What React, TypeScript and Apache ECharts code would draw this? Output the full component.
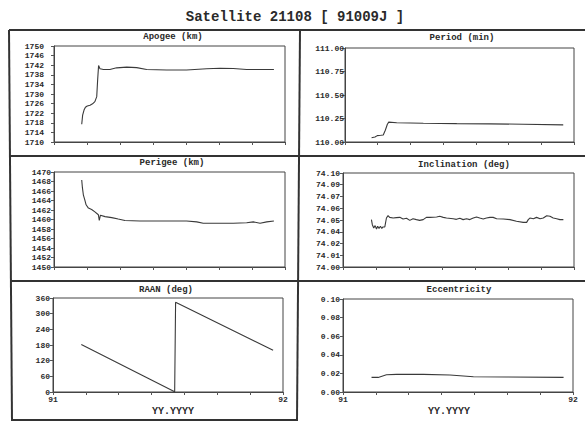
import React, { useEffect, useRef } from "react";
import * as echarts from "echarts";

const MAIN_TITLE = "Satellite 21108 [ 91009J ]";
const PANEL_TITLES = ["Apogee (km)", "Period (min)", "Perigee (km)", "Inclination (deg)", "RAAN (deg)", "Eccentricity"];
const X_AXIS_NAME = "YY.YYYY";
const X_MIN = 91;
const X_MAX = 92;
const X_TICKS = [91, 91.142857, 91.285714, 91.428571, 91.571429, 91.714286, 91.857143, 92];
const X_LABELS = [91, 92];

const apogeeYear = [91.120, 91.124, 91.130, 91.136, 91.144, 91.156, 91.167, 91.177, 91.185, 91.189, 91.193, 91.199, 91.214, 91.242, 91.271, 91.315, 91.358, 91.401, 91.488, 91.574, 91.661, 91.719, 91.776, 91.834, 91.892, 91.952];
const apogeeKm = [1717.4, 1721.2, 1723.3, 1724.5, 1725.0, 1725.3, 1725.9, 1726.8, 1728.9, 1736.0, 1741.9, 1740.5, 1740.2, 1740.2, 1740.9, 1741.2, 1741.0, 1740.2, 1740.0, 1740.0, 1740.5, 1740.7, 1740.6, 1740.2, 1740.2, 1740.2];

const periodYear = [91.116, 91.131, 91.141, 91.156, 91.167, 91.176, 91.185, 91.191, 91.226, 91.342, 91.488, 91.633, 91.779, 91.953];
const periodMin = [110.046, 110.054, 110.068, 110.071, 110.075, 110.125, 110.189, 110.211, 110.204, 110.200, 110.196, 110.193, 110.189, 110.182];

const perigeeYear = [91.120, 91.123, 91.127, 91.133, 91.139, 91.149, 91.163, 91.177, 91.192, 91.196, 91.201, 91.221, 91.250, 91.278, 91.307, 91.372, 91.459, 91.574, 91.618, 91.646, 91.776, 91.834, 91.863, 91.892, 91.921, 91.952];
const perigeeKm = [1468.3, 1466.7, 1465.2, 1464.2, 1463.1, 1462.4, 1462.1, 1461.6, 1461.0, 1459.8, 1460.9, 1460.6, 1460.4, 1460.1, 1459.8, 1459.7, 1459.7, 1459.7, 1459.5, 1459.2, 1459.2, 1459.3, 1459.5, 1459.2, 1459.5, 1459.7];

const inclYear = [91.123, 91.127, 91.133, 91.139, 91.145, 91.150, 91.156, 91.162, 91.168, 91.173, 91.181, 91.188, 91.195, 91.202, 91.217, 91.231, 91.246, 91.260, 91.275, 91.289, 91.303, 91.318, 91.332, 91.347, 91.361, 91.376, 91.405, 91.419, 91.434, 91.448, 91.477, 91.491, 91.506, 91.520, 91.535, 91.549, 91.564, 91.578, 91.592, 91.607, 91.621, 91.636, 91.650, 91.665, 91.694, 91.723, 91.751, 91.780, 91.795, 91.802, 91.809, 91.824, 91.838, 91.853, 91.867, 91.882, 91.896, 91.910, 91.925, 91.939, 91.954];
const inclDeg = [74.0504, 74.0450, 74.0415, 74.0440, 74.0404, 74.0433, 74.0411, 74.0433, 74.0411, 74.0426, 74.0426, 74.0521, 74.0546, 74.0528, 74.0521, 74.0525, 74.0528, 74.0511, 74.0518, 74.0496, 74.0514, 74.0504, 74.0496, 74.0504, 74.0528, 74.0528, 74.0532, 74.0539, 74.0528, 74.0521, 74.0514, 74.0507, 74.0518, 74.0504, 74.0514, 74.0504, 74.0521, 74.0532, 74.0521, 74.0511, 74.0521, 74.0528, 74.0528, 74.0514, 74.0511, 74.0504, 74.0486, 74.0475, 74.0475, 74.0504, 74.0521, 74.0514, 74.0528, 74.0514, 74.0521, 74.0546, 74.0539, 74.0521, 74.0514, 74.0504, 74.0504];

const raanYear = [91.123, 91.529, 91.533, 91.957];
const raanDeg = [182, 1, 344, 160];

const eccYear = [91.124, 91.153, 91.189, 91.233, 91.349, 91.465, 91.567, 91.712, 91.959];
const eccValue = [0.0157, 0.0157, 0.0186, 0.0189, 0.0189, 0.0182, 0.0164, 0.0161, 0.0157];

const APOGEE_LABELS = ["1710", "1714", "1718", "1722", "1726", "1730", "1734", "1738", "1742", "1746", "1750"];
const PERIOD_LABELS = ["110.00", "110.25", "110.50", "110.75", "111.00"];
const PERIGEE_LABELS = ["1450", "1452", "1454", "1456", "1458", "1460", "1462", "1464", "1466", "1468", "1470"];
const INCL_LABELS = ["74.00", "74.01", "74.02", "74.04", "74.05", "74.06", "74.07", "74.09", "74.10"];
const RAAN_LABELS = ["0", "60", "120", "180", "240", "300", "360"];
const ECC_LABELS = ["0.00", "0.02", "0.04", "0.06", "0.08", "0.10"];

const FONT = "'Liberation Mono', 'DejaVu Sans Mono', monospace";
const INK = "#2a2a2a";
const LINE = "#3a3a3a";

type Panel = {
  grid: { left: number; top: number; width: number; height: number };
  min: number; max: number; interval: number; labels: string[]; margin: number;
  xs: number[]; ys: number[]; bottom: boolean;
  title: [number, number]; xname?: [number, number];
};

const panels: Panel[] = [
  { grid: { left: 54, top: 46, width: 231, height: 96 }, min: 1710, max: 1750, interval: 4, labels: APOGEE_LABELS, margin: 10, xs: apogeeYear, ys: apogeeKm, bottom: false, title: [173, 37] },
  { grid: { left: 345, top: 48, width: 229, height: 94 }, min: 110, max: 111, interval: 0.25, labels: PERIOD_LABELS, margin: 1, xs: periodYear, ys: periodMin, bottom: false, title: [462, 38] },
  { grid: { left: 54, top: 172, width: 231, height: 95 }, min: 1450, max: 1470, interval: 2, labels: PERIGEE_LABELS, margin: 3, xs: perigeeYear, ys: perigeeKm, bottom: false, title: [172, 163] },
  { grid: { left: 343, top: 173, width: 231, height: 94 }, min: 74.0, max: 74.1, interval: 0.0125, labels: INCL_LABELS, margin: 3, xs: inclYear, ys: inclDeg, bottom: false, title: [464, 165] },
  { grid: { left: 53, top: 298, width: 230, height: 94 }, min: 0, max: 360, interval: 60, labels: RAAN_LABELS, margin: 3, xs: raanYear, ys: raanDeg, bottom: true, title: [166, 290], xname: [173, 411] },
  { grid: { left: 343, top: 299, width: 230, height: 93 }, min: 0, max: 0.1, interval: 0.02, labels: ECC_LABELS, margin: 3, xs: eccYear, ys: eccValue, bottom: true, title: [459, 290], xname: [449, 411] },
];

function text(str: string, x: number, y: number, size: number) {
  return {
    type: "text",
    x, y,
    silent: true,
    style: {
      text: str,
      font: `bold ${size}px ${FONT}`,
      fill: INK,
      align: "center",
      verticalAlign: "middle",
      textAlign: "center",
      textVerticalAlign: "middle",
    },
  };
}

function line(x1: number, y1: number, x2: number, y2: number, w: number) {
  return { type: "line", silent: true, shape: { x1, y1, x2, y2 }, style: { stroke: "#333", lineWidth: w } };
}

function buildOption() {
  const graphic: any[] = [];
  graphic.push(text(MAIN_TITLE, 295, 17, 14));
  graphic.push(line(9, 30, 585, 30, 2));
  graphic.push(line(9, 30, 12, 421, 2));
  graphic.push(line(300, 30, 297, 421, 2));
  graphic.push(line(10, 156, 585, 156, 2));
  graphic.push(line(11, 281, 585, 281, 2));
  graphic.push(line(12, 420, 297, 420, 2));
  panels.forEach((p, i) => {
    graphic.push(text(PANEL_TITLES[i], p.title[0], p.title[1], 9));
    if (p.xname) graphic.push(text(X_AXIS_NAME, p.xname[0], p.xname[1], 10));
  });

  return {
    animation: false,
    backgroundColor: "#ffffff",
    grid: panels.map((p) => ({
      ...p.grid,
      show: true,
      borderColor: "#444",
      borderWidth: 1,
      backgroundColor: "transparent",
      containLabel: false,
      outerBoundsMode: "none",
    })),
    xAxis: panels.map((p, i) => ({
      type: "value",
      gridIndex: i,
      min: X_MIN,
      max: X_MAX,
      axisLine: { show: true, lineStyle: { color: "#444", width: 1 } },
      axisTick: { show: true, length: 3, inside: false, customValues: X_TICKS, lineStyle: { color: "#555" } },
      axisLabel: {
        show: p.bottom,
        customValues: X_LABELS,
        formatter: (v: number) => String(Math.round(v)),
        fontFamily: FONT,
        fontWeight: "bold",
        fontSize: 8,
        color: INK,
        margin: 3,
      },
      splitLine: { show: false },
    })),
    yAxis: panels.map((p, i) => ({
      type: "value",
      gridIndex: i,
      min: p.min,
      max: p.max,
      interval: p.interval,
      axisLine: { show: true, lineStyle: { color: "#444", width: 1 } },
      axisTick: { show: true, length: 3, inside: false, lineStyle: { color: "#555" } },
      axisLabel: {
        formatter: (_v: number, idx: number) => p.labels[idx] ?? "",
        fontFamily: FONT,
        fontWeight: "bold",
        fontSize: 8,
        color: INK,
        margin: p.margin,
        padding: [0, 0, 6, 0],
      },
      splitLine: { show: false },
    })),
    series: panels.map((p, i) => ({
      type: "line",
      xAxisIndex: i,
      yAxisIndex: i,
      showSymbol: false,
      symbol: "none",
      silent: true,
      lineStyle: { color: LINE, width: 1.1 },
      data: p.xs.map((x, k) => [x, p.ys[k]]),
    })),
    graphic,
  };
}

export default function App() {
  const ref = useRef<HTMLDivElement>(null);
  useEffect(() => {
    if (!ref.current) return;
    const chart = echarts.init(ref.current, null, { renderer: "svg" });
    chart.setOption(buildOption() as any);
    return () => chart.dispose();
  }, []);
  return (
    <div
      ref={ref}
      style={{ position: "fixed", left: 0, top: 0, width: 585, height: 422, background: "#fff" }}
    />
  );
}
